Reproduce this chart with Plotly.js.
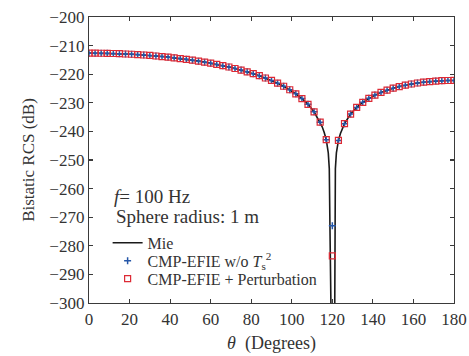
<!DOCTYPE html>
<html>
<head>
<meta charset="utf-8">
<script src="https://cdn.plot.ly/plotly-3.0.1.min.js"></script>
<style>
html,body{margin:0;padding:0;background:#fff;}
#chart{width:469px;height:356px;}
</style>
</head>
<body>
<div id="chart"></div>
<script>
// Sample angles (degrees) for the MoM results
const theta = [0,3,6,9,12,15,18,21,24,27,30,33,36,39,42,45,48,51,54,57,60,63,66,69,72,75,78,81,84,87,90,93,96,99,102,105,108,111,114,117,120,123,126,129,132,135,138,141,144,147,150,153,156,159,162,165,168,171,174,177,180];

// CMP-EFIE w/o T_s^2 (dB)
const rcsNoT = [-212.64,-212.65,-212.67,-212.71,-212.77,-212.84,-212.93,-213.03,-213.15,-213.29,-213.45,-213.63,-213.82,-214.04,-214.27,-214.52,-214.80,-215.10,-215.43,-215.78,-216.16,-216.57,-217.01,-217.49,-218.00,-218.56,-219.16,-219.82,-220.53,-221.32,-222.18,-223.14,-224.22,-225.44,-226.85,-228.51,-230.54,-233.14,-236.77,-242.90,-273.0,-243.17,-237.29,-233.93,-231.60,-229.84,-228.44,-227.31,-226.36,-225.57,-224.89,-224.32,-223.83,-223.42,-223.08,-222.79,-222.57,-222.40,-222.28,-222.21,-222.18];

// CMP-EFIE + Perturbation (dB)
const rcsPert = [-212.64,-212.65,-212.67,-212.71,-212.77,-212.84,-212.93,-213.03,-213.15,-213.29,-213.45,-213.63,-213.82,-214.04,-214.27,-214.52,-214.80,-215.10,-215.43,-215.78,-216.16,-216.57,-217.01,-217.49,-218.00,-218.56,-219.16,-219.82,-220.53,-221.32,-222.18,-223.14,-224.22,-225.44,-226.85,-228.51,-230.54,-233.14,-236.77,-242.90,-283.5,-243.17,-237.29,-233.93,-231.60,-229.84,-228.44,-227.31,-226.36,-225.57,-224.89,-224.32,-223.83,-223.42,-223.08,-222.79,-222.57,-222.40,-222.28,-222.21,-222.18];

// Mie reference curve
const mieTheta = [0,3,6,9,12,15,18,21,24,27,30,33,36,39,42,45,48,51,54,57,60,63,66,69,72,75,78,81,84,87,90,93,96,99,102,105,108,111,114,115,116,117,118,118.5,118.8,119,120,121,121.2,121.5,122,123,124,125,126,129,132,135,138,141,144,147,150,153,156,159,162,165,168,171,174,177,180];
const mieRcs = [-212.64,-212.65,-212.67,-212.71,-212.77,-212.84,-212.93,-213.03,-213.15,-213.29,-213.45,-213.63,-213.82,-214.04,-214.27,-214.52,-214.80,-215.10,-215.43,-215.78,-216.16,-216.57,-217.01,-217.49,-218.00,-218.56,-219.16,-219.82,-220.53,-221.32,-222.18,-223.14,-224.22,-225.44,-226.85,-228.51,-230.54,-233.14,-236.77,-238.39,-240.36,-242.90,-247.5,-253.0,-272.0,-330.0,-340.0,-330.0,-272.0,-253.0,-247.5,-243.17,-240.72,-238.82,-237.29,-233.93,-231.60,-229.84,-228.44,-227.31,-226.36,-225.57,-224.89,-224.32,-223.83,-223.42,-223.08,-222.79,-222.57,-222.40,-222.28,-222.21,-222.18];

const xTicks = [0,20,40,60,80,100,120,140,160,180];
const yTicks = [-300,-290,-280,-270,-260,-250,-240,-230,-220,-210,-200];

const serif = '"Liberation Serif", "Times New Roman", Times, serif';
const axisColor = '#3a3a3a';

const traces = [
  {
    x: mieTheta, y: mieRcs, mode: 'lines', name: 'Mie',
    line: {color: '#1a1a1a', width: 1.6}
  },
  {
    x: theta, y: rcsNoT, mode: 'markers', name: 'CMP-EFIE w/o <i>T</i><sub>s</sub><sup>2</sup>',
    marker: {symbol: 'cross-thin', size: 5, line: {color: '#2456a8', width: 1.5}, color: '#2456a8'}
  },
  {
    x: theta, y: rcsPert, mode: 'markers', name: 'CMP-EFIE + Perturbation',
    marker: {symbol: 'square-open', size: 6, color: '#dd2a35', line: {width: 1.2}}
  }
];

const layout = {
  width: 469, height: 356,
  margin: {l: 89, r: 15, t: 17, b: 53, pad: 0},
  paper_bgcolor: '#fff', plot_bgcolor: '#fff',
  font: {family: serif, size: 17, color: '#333'},
  showlegend: true,
  legend: {
    x: 0.051, y: 0.27, xanchor: 'left', yanchor: 'top',
    bgcolor: 'rgba(0,0,0,0)', borderwidth: 0,
    font: {family: serif, size: 16, color: '#333'},
    itemwidth: 30, tracegroupgap: 0
  },
  xaxis: {
    range: [0, 180], tickvals: xTicks, ticktext: xTicks.map(String),
    ticks: 'inside', ticklen: 4, tickwidth: 1.2, tickcolor: axisColor,
    showline: true, linecolor: axisColor, linewidth: 1.2, mirror: 'ticks',
    showgrid: false, zeroline: false,
    tickfont: {family: serif, size: 17, color: '#333'},
    title: {text: '<i>θ</i>\u00a0\u00a0(Degrees)', font: {family: serif, size: 18, color: '#333'}, standoff: 8}
  },
  yaxis: {
    range: [-300, -200], tickvals: yTicks,
    ticks: 'inside', ticklen: 4, tickwidth: 1.2, tickcolor: axisColor,
    showline: true, linecolor: axisColor, linewidth: 1.2, mirror: 'ticks',
    showgrid: false, zeroline: false,
    tickfont: {family: serif, size: 17, color: '#333'},
    title: {text: 'Bistatic RCS (dB)', font: {family: serif, size: 17, color: '#333'}, standoff: 10}
  },
  annotations: [
    {xref: 'paper', yref: 'paper', x: 0.064, y: 0.372, xanchor: 'left', yanchor: 'middle',
     text: '<i>f</i>= 100 Hz', showarrow: false, font: {family: serif, size: 19, color: '#333'}},
    {xref: 'paper', yref: 'paper', x: 0.068, y: 0.304, xanchor: 'left', yanchor: 'middle',
     text: 'Sphere radius: 1 m', showarrow: false, font: {family: serif, size: 19, color: '#333'}}
  ]
};

Plotly.newPlot('chart', traces, layout, {displayModeBar: false, staticPlot: true}).then(function (gd) {
  // tighten legend row spacing to match the reference
  const items = gd.querySelectorAll('.legend .traces');
  let y0 = null;
  items.forEach(function (el, i) {
    const m = /translate\(([-\d.]+),\s*([-\d.]+)\)/.exec(el.getAttribute('transform') || '');
    if (!m) return;
    const x = parseFloat(m[1]);
    const y = parseFloat(m[2]);
    if (y0 === null) y0 = y;
    el.setAttribute('transform', 'translate(' + x + ',' + (y0 + i * 18) + ')');
  });
});
</script>
</body>
</html>
